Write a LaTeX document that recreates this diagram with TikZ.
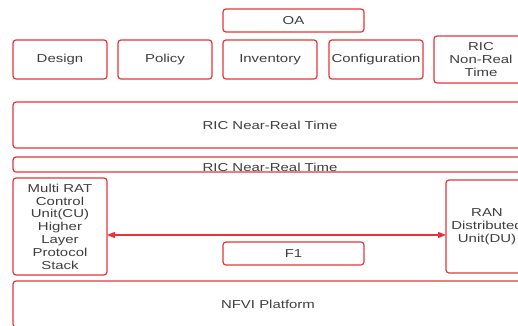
\documentclass[tikz,border=0pt]{standalone}
\usepackage{fontspec}
\setmainfont[FakeStretch=1.3]{Liberation Sans}
\usepackage{xcolor}
\usepackage{tikz}
\usetikzlibrary{calc, arrows.meta}

\definecolor{boxred}{RGB}{228,52,58}
\definecolor{txtgray}{RGB}{62,62,62}

\tikzset{
	box/.style = {draw = boxred, line width = 1.2pt, rounded corners = 3pt,
		inner sep = 0pt, outer sep = 0pt, align = center, text = txtgray,
		font = \fontsize{11.5}{12.8}\selectfont},
	lbl/.style = {inner sep = 0pt, text = txtgray, font = \fontsize{11.5}{12.8}\selectfont}
}

\begin{document}
\begin{tikzpicture}[x = 1pt, y = -1pt]
			\def\W{518};
			\def\H{325};
			
			\useasboundingbox (0,0) rectangle (\W,\H);
			\clip (0,0) rectangle (\W,\H);
			
			% OA and its functions
			\node [box, minimum width = 141, minimum height = 23] (oa) at (293.5,20.5) {OA};
			\node [box, minimum width = 94, minimum height = 39] (design) at (60,59.5) {Design};
			\node [box, minimum width = 94, minimum height = 39] (policy) at (165,59.5) {Policy};
			\node [box, minimum width = 94, minimum height = 39] (inventory) at (270,59.5) {Inventory};
			\node [box, minimum width = 94, minimum height = 39] (config) at (376,59.5) {Configuration};
			\node [box, minimum width = 94, minimum height = 47] (nonrt) at (481,59.5) {RIC\\Non-Real\\Time};
			
			% near-real time layers
			\node [box, minimum width = 514, minimum height = 46] (nearrt) at (270,125) {RIC Near-Real Time};
			\node [box, minimum width = 514, minimum height = 15] (nearrtb) at (270,164.5) {};
			\node [lbl] (nearrtlbl) at (270,167) {RIC Near-Real Time};
			
			% CU, DU and F1
			\node [box, minimum width = 94, minimum height = 97] (cu) at (60,226.5)
				{Multi RAT\\Control\\Unit(CU)\\Higher\\Layer\\Protocol\\Stack};
			\node [box, minimum width = 82, minimum height = 93] (du) at (487,226.5) {RAN\\Distributed\\Unit(DU)};
			\node [box, minimum width = 141, minimum height = 23] (f1) at (293.5,253.5) {F1};
			
			\coordinate (link) at (0,235);
			\begin{scope}[{Triangle[length = 8pt, width = 6pt]}-{Triangle[length = 8pt, width = 6pt]}]
				\draw [boxred, line width = 1.2pt] (cu.east |- link) -- (du.west |- link);
			\end{scope}
			
			% platform
			\node [box, minimum width = 510, minimum height = 46] (nfvi) at (268,304) {NFVI Platform};
		\end{tikzpicture}
\end{document}
